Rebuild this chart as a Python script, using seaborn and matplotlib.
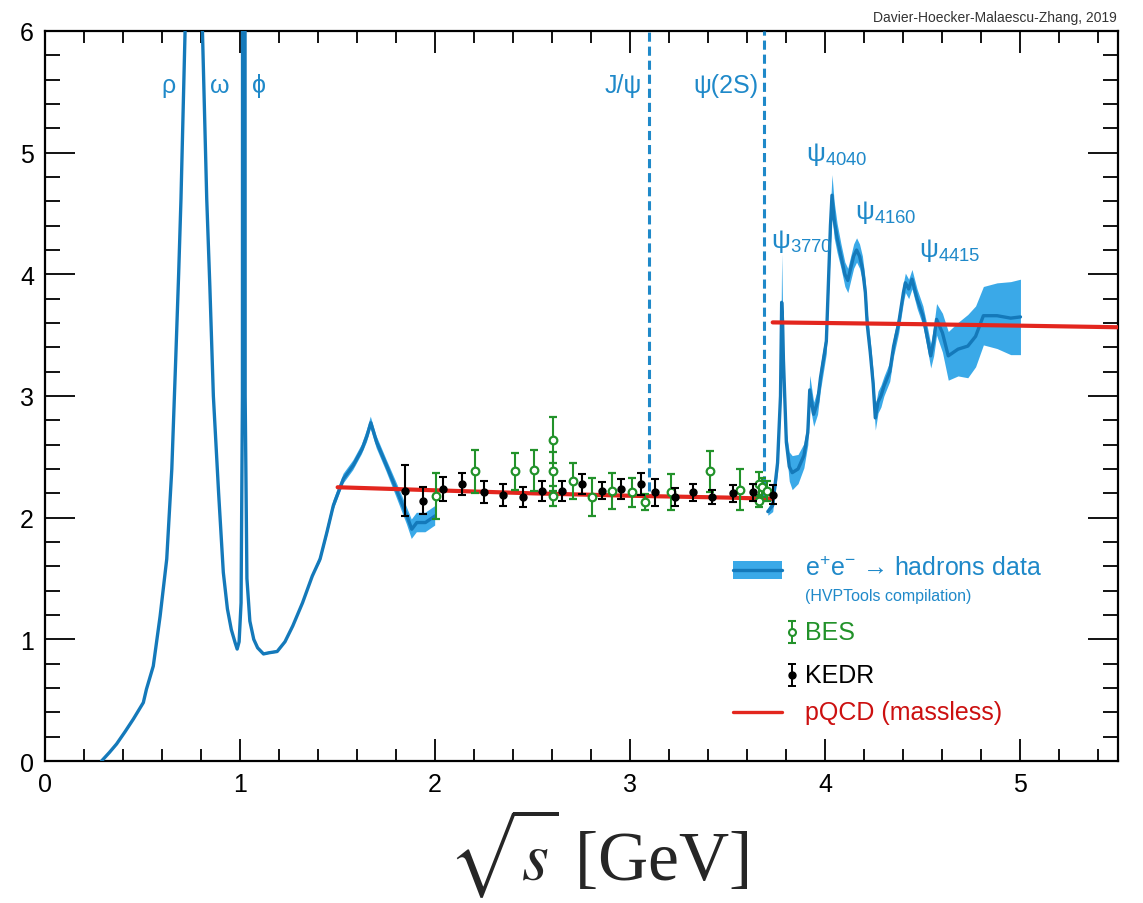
import numpy as np
import matplotlib
matplotlib.use("Agg")
import matplotlib.pyplot as plt
import seaborn as sns
from matplotlib.patches import Rectangle
from matplotlib.lines import Line2D

# ---------------- data ----------------
low_x = [0.29, 0.33, 0.367, 0.41, 0.453, 0.504, 0.52, 0.555, 0.59, 0.624, 0.65, 0.67, 0.685,
         0.697, 0.718, 0.74, 0.76, 0.775, 0.782, 0.79, 0.807, 0.829, 0.845, 0.863, 0.89,
         0.914, 0.935, 0.955, 0.975, 0.985, 0.995, 1.005, 1.012, 1.019, 1.026, 1.035, 1.05,
         1.07, 1.09, 1.12, 1.15, 1.19, 1.23, 1.27, 1.32, 1.37, 1.41, 1.445, 1.478, 1.53,
         1.58, 1.624, 1.65, 1.67, 1.70, 1.75, 1.80, 1.855, 1.88, 1.906, 1.95, 2.0]
low_y = [0.0, 0.07, 0.14, 0.24, 0.345, 0.48, 0.59, 0.78, 1.19, 1.66, 2.4, 3.3, 4.0,
         4.62, 6.0, 7.5, 8.6, 9.0, 14.0, 7.5, 6.0, 4.62, 3.9, 3.0, 2.2,
         1.55, 1.25, 1.08, 0.97, 0.92, 0.98, 1.3, 3.0, 40.0, 3.0, 1.5, 1.15,
         1.0, 0.93, 0.88, 0.89, 0.90, 0.98, 1.11, 1.3, 1.52, 1.66, 1.88, 2.10, 2.32,
         2.43, 2.56, 2.67, 2.78, 2.62, 2.43, 2.235, 2.015, 1.905, 1.96, 1.96, 2.015]
low_err = [0.01] * 46 + [0.03, 0.04, 0.04, 0.04, 0.04, 0.04, 0.05, 0.05, 0.05, 0.05,
                         0.06, 0.07, 0.08, 0.08, 0.08, 0.08]

charm_x = [3.705, 3.73, 3.755, 3.77, 3.776, 3.781, 3.785, 3.80, 3.815, 3.83, 3.86, 3.89,
           3.91, 3.92, 3.94, 3.96, 3.975, 3.99, 4.005, 4.015, 4.026, 4.034, 4.045, 4.06,
           4.08, 4.10, 4.115, 4.13, 4.145, 4.16, 4.175, 4.19, 4.205, 4.215, 4.23, 4.245,
           4.256, 4.27, 4.285, 4.30, 4.33, 4.35, 4.376, 4.40, 4.41, 4.427, 4.444, 4.47,
           4.50, 4.52, 4.54, 4.555, 4.57, 4.60, 4.63, 4.68, 4.73, 4.77, 4.81, 4.88,
           4.95, 5.0]
charm_y = [2.05, 2.1, 2.45, 3.0, 3.77, 3.6, 3.30, 2.62, 2.42, 2.37, 2.40, 2.51,
           2.7, 3.05, 2.85, 2.95, 3.15, 3.3, 3.45, 3.9, 4.4, 4.65, 4.45, 4.3,
           4.15, 4.0, 3.95, 4.05, 4.15, 4.2, 4.15, 4.05, 3.85, 3.58, 3.36, 3.1,
           2.82, 2.95, 3.0, 3.08, 3.2, 3.41, 3.6, 3.85, 3.93, 3.88, 3.96, 3.80,
           3.66, 3.5, 3.33, 3.45, 3.63, 3.52, 3.33, 3.385, 3.41, 3.49, 3.66, 3.66,
           3.64, 3.65]
charm_err = [0.03, 0.05, 0.08, 0.1, 0.4, 0.1, 0.08, 0.08, 0.12, 0.14, 0.12, 0.1,
             0.1, 0.12, 0.1, 0.1, 0.1, 0.1, 0.1, 0.12, 0.15, 0.17, 0.15, 0.12,
             0.1, 0.1, 0.1, 0.1, 0.1, 0.1, 0.1, 0.1, 0.1, 0.1, 0.1, 0.1,
             0.1, 0.09, 0.09, 0.08, 0.08, 0.08, 0.08, 0.08, 0.08, 0.08, 0.08, 0.08,
             0.08, 0.09, 0.1, 0.12, 0.13, 0.16, 0.2, 0.22, 0.26, 0.25, 0.24, 0.27,
             0.3, 0.31]

kedr_x = [1.846, 1.94, 2.04, 2.14, 2.25, 2.347, 2.45, 2.55, 2.65, 2.75, 2.856, 2.955,
          3.056, 3.128, 3.23, 3.32, 3.42, 3.527, 3.627, 3.73]
kedr_y = [2.22, 2.14, 2.235, 2.276, 2.21, 2.19, 2.17, 2.22, 2.22, 2.276, 2.22, 2.235,
          2.28, 2.21, 2.17, 2.21, 2.17, 2.20, 2.21, 2.19]
kedr_err = [0.21, 0.11, 0.10, 0.09, 0.09, 0.09, 0.08, 0.08, 0.08, 0.08, 0.07, 0.08,
            0.09, 0.11, 0.07, 0.07, 0.06, 0.07, 0.07, 0.08]

bes_x = [2.005, 2.205, 2.407, 2.504, 2.604, 2.604, 2.604, 2.704, 2.805, 2.906, 3.009,
         3.077, 3.21, 3.41, 3.56, 3.658, 3.658, 3.675, 3.70]
bes_y = [2.18, 2.38, 2.38, 2.39, 2.64, 2.38, 2.18, 2.30, 2.17, 2.22, 2.21,
         2.13, 2.21, 2.38, 2.23, 2.276, 2.14, 2.25, 2.22]
bes_err = [0.19, 0.18, 0.155, 0.17, 0.19, 0.16, 0.08, 0.15, 0.155, 0.15, 0.12,
           0.065, 0.145, 0.17, 0.17, 0.1, 0.05, 0.08, 0.08]

pqcd_low_x = [1.5, 2.0, 2.5, 3.0, 3.5, 3.73]
pqcd_low_y = [2.25, 2.225, 2.20, 2.18, 2.165, 2.155]
pqcd_high_x = [3.73, 4.0, 4.5, 5.0, 5.5]
pqcd_high_y = [3.605, 3.60, 3.59, 3.578, 3.565]

resonance_lines_x = [3.097, 3.686]
resonance_lines_ymin = [2.22, 2.15]

labels_light = ["ρ", "ω", "ϕ", "J/ψ", "ψ(2S)"]
labels_light_x = [0.631, 0.897, 1.097, 2.964, 3.49]
labels_psi = ["ψ$_{3770}$", "ψ$_{4040}$", "ψ$_{4160}$", "ψ$_{4415}$"]
labels_psi_x = [3.877, 4.06, 4.31, 4.636]
labels_psi_y = [4.28, 4.99, 4.52, 4.20]

x_ticks = [0, 1, 2, 3, 4, 5]
y_ticks = [0, 1, 2, 3, 4, 5, 6]

# ---------------- style ----------------
sns.set_theme(style="ticks")
plt.rcParams["font.family"] = ["Liberation Sans", "DejaVu Sans"]
plt.rcParams["mathtext.fontset"] = "custom"
plt.rcParams["mathtext.rm"] = "Liberation Sans"
plt.rcParams["mathtext.it"] = "Liberation Sans:italic"
plt.rcParams["mathtext.default"] = "regular"

BAND = "#3aa9e8"
LINE = "#1479ba"
TXTBLUE = "#1f89c9"
GREEN = "#22922a"
RED = "#e3261e"

fig = plt.figure(figsize=(11.43, 9.04), dpi=100)
ax = fig.add_axes([45 / 1143, 1 - 762 / 904, (1118 - 45) / 1143, (762 - 32) / 904])

# bands + central lines
lx, ly, le = map(np.array, (low_x, low_y, low_err))
ax.fill_between(lx, ly - le, ly + le, color=BAND, lw=0, zorder=2)
sns.lineplot(x=lx, y=ly, ax=ax, color=LINE, lw=2.4, sort=False, estimator=None, zorder=3)
cx, cy, ce = map(np.array, (charm_x, charm_y, charm_err))
ax.fill_between(cx, cy - ce, cy + ce, color=BAND, lw=0, zorder=2)
sns.lineplot(x=cx, y=cy, ax=ax, color=LINE, lw=2.4, sort=False, estimator=None, zorder=3)

# pQCD
sns.lineplot(x=pqcd_low_x, y=pqcd_low_y, ax=ax, color=RED, lw=3.0, estimator=None, zorder=4)
sns.lineplot(x=pqcd_high_x, y=pqcd_high_y, ax=ax, color=RED, lw=3.0, estimator=None, zorder=4)

# resonance markers
ax.vlines(resonance_lines_x, resonance_lines_ymin, 6.0, colors=TXTBLUE, lw=2.2,
          linestyles=[(0, (3, 1.6))], zorder=3)

# data points
ax.errorbar(bes_x, bes_y, yerr=bes_err, fmt="o", mfc="white", mec=GREEN, ms=5.5, mew=1.6,
            ecolor=GREEN, elinewidth=1.5, capsize=2.6, capthick=1.5, zorder=5)
ax.errorbar(kedr_x, kedr_y, yerr=kedr_err, fmt="o", color="black", ms=5,
            ecolor="black", elinewidth=1.5, capsize=2.6, capthick=1.5, zorder=6)

# labels
for t, x in zip(labels_light, labels_light_x):
    ax.text(x, 5.555, t, color=TXTBLUE, fontsize=18, ha="center", va="center", zorder=7)
for t, x, y in zip(labels_psi, labels_psi_x, labels_psi_y):
    ax.text(x, y, t, color=TXTBLUE, fontsize=19, ha="center", va="center", zorder=7)

# axes
ax.set_xlim(0, 5.5)
ax.set_ylim(0, 6)
ax.set_xticks(x_ticks)
ax.set_yticks(y_ticks)
ax.set_xticks(np.arange(0, 5.51, 0.2), minor=True)
ax.set_yticks(np.arange(0, 6.01, 0.2), minor=True)
ax.tick_params(axis="both", which="both", direction="in", top=True, right=True,
               colors="black", labelsize=18)
ax.tick_params(axis="x", which="major", length=16, width=1.3, pad=8)
ax.tick_params(axis="x", which="minor", length=8.5, width=1.3)
ax.tick_params(axis="y", which="major", length=21.5, width=1.3, pad=8)
ax.tick_params(axis="y", which="minor", length=10.8, width=1.3)
for s in ax.spines.values():
    s.set_color("black")
    s.set_linewidth(1.6)
ax.set_ylabel("")
ax.set_xlabel(r"$\sqrt{\mathit{s}}$ [GeV]", fontsize=50, family="Liberation Serif",
              math_fontfamily="stix")
ax.xaxis.set_label_coords((598 - 45) / 1073, -0.06)

# attribution
fig.text(1117 / 1143, 1 - 18 / 904, "Davier-Hoecker-Malaescu-Zhang, 2019", fontsize=10,
         color="#333333", ha="right", va="center")

# manual legend (axes fraction)
T = ax.transAxes
def fx(px):
    return (px - 45) / 1073
def fy(py):
    return (762 - py) / 730

ax.add_patch(Rectangle((fx(733), fy(580)), fx(782) - fx(733), fy(562) - fy(580),
                       transform=T, color=BAND, lw=0, zorder=8))
ax.add_line(Line2D([fx(733), fx(782)], [fy(571), fy(571)], transform=T, color=LINE, lw=2.4, zorder=9))
ax.text(fx(805), fy(569), "e$^{+}$e$^{-}$ → hadrons data", transform=T, fontsize=18,
        color=TXTBLUE, ha="left", va="center")
ax.text(fx(805), fy(597), "(HVPTools compilation)", transform=T, fontsize=11.5,
        color=TXTBLUE, ha="left", va="center")
ax.errorbar([fx(792)], [fy(633)], yerr=[11 / 730], transform=T, fmt="o", mfc="white",
            mec=GREEN, ms=5, mew=1.5, ecolor=GREEN, elinewidth=1.4, capsize=2.6, capthick=1.4,
            clip_on=False)
ax.text(fx(805), fy(633), "BES", transform=T, fontsize=18, color=GREEN, ha="left", va="center")
ax.errorbar([fx(792)], [fy(676)], yerr=[11 / 730], transform=T, fmt="o", color="black",
            ms=5, ecolor="black", elinewidth=1.4, capsize=2.6, capthick=1.4, clip_on=False)
ax.text(fx(805), fy(676), "KEDR", transform=T, fontsize=18, color="black", ha="left", va="center")
ax.add_line(Line2D([fx(733), fx(782)], [fy(713), fy(713)], transform=T, color=RED, lw=2.4))
ax.text(fx(805), fy(713), "pQCD (massless)", transform=T, fontsize=18, color="#cc1010",
        ha="left", va="center")

fig.savefig("out.png", dpi=100)
